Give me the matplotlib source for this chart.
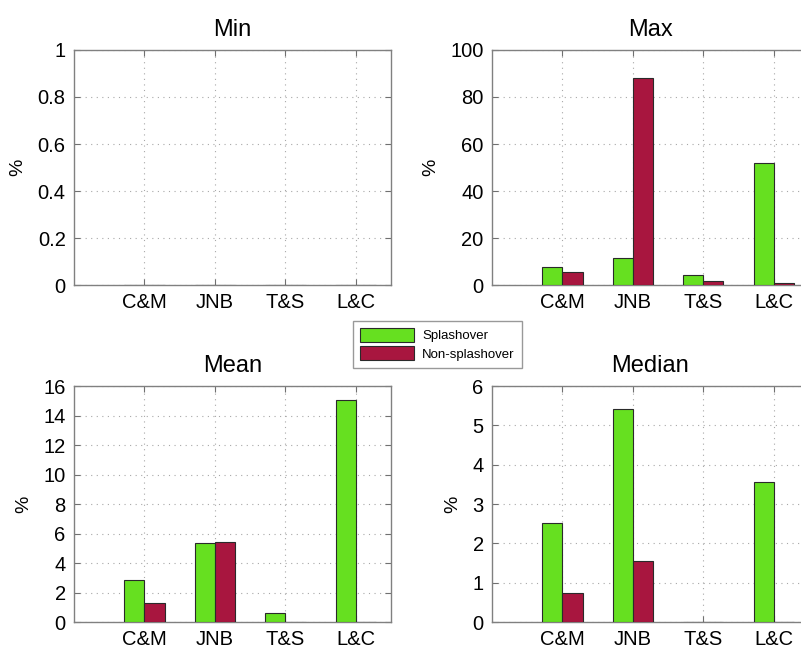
import matplotlib.pyplot as plt
import numpy as np

plt.rcParams['font.family'] = ['Liberation Sans', 'DejaVu Sans']

sites = ['C&M', 'JNB', 'T&S', 'L&C']
series_names = ['Splashover', 'Non-splashover']

min_splash = [0, 0, 0, 0]
min_non = [0, 0, 0, 0]

max_splash = [7.8, 11.6, 4.1, 51.8]
max_non = [5.7, 88.2, 1.8, 1.0]

mean_splash = [2.87, 5.39, 0.61, 15.06]
mean_non = [1.29, 5.44, 0.02, 0.02]

median_splash = [2.51, 5.41, 0.0, 3.55]
median_non = [0.74, 1.54, 0.0, 0.0]

green = '#66e020'
red = '#a8163f'
edge = '#2a2a2a'

panels = [
    ('Min', min_splash, min_non, (0, 1), np.arange(0, 1.01, 0.2), [0.0924, 0.5622, 0.3958, 0.361]),
    ('Max', max_splash, max_non, (0, 100), np.arange(0, 101, 20), [0.6142, 0.5622, 0.3958, 0.361]),
    ('Mean', mean_splash, mean_non, (0, 16), np.arange(0, 17, 2), [0.0924, 0.0445, 0.3958, 0.3625]),
    ('Median', median_splash, median_non, (0, 6), np.arange(0, 7, 1), [0.6142, 0.0445, 0.3958, 0.3625]),
]

fig = plt.figure(figsize=(8.01, 6.51), dpi=100)

x = np.arange(1, len(sites) + 1)
w = 0.286

handles = None
for title, s_vals, n_vals, ylim, yticks, pos in panels:
    ax = fig.add_axes(pos)
    b1 = ax.bar(x - w / 2, s_vals, w, color=green, edgecolor=edge, linewidth=0.8, zorder=3)
    b2 = ax.bar(x + w / 2, n_vals, w, color=red, edgecolor=edge, linewidth=0.8, zorder=3)
    handles = [b1, b2]
    ax.set_xlim(0, 4.5)
    ax.set_ylim(*ylim)
    ax.set_xticks(x)
    ax.set_xticklabels(sites)
    ax.set_yticks(yticks)
    if title == 'Min':
        ax.set_yticklabels(['0', '0.2', '0.4', '0.6', '0.8', '1'])
    ax.grid(True, linestyle=(0, (1, 4)), color='#a8a8a8', linewidth=0.8, zorder=0)
    ax.tick_params(direction='in', length=4, labelsize=14.5, color='#707070', pad=6,
                   top=True, right=True)
    for sp in ax.spines.values():
        sp.set_color('#808080')
        sp.set_linewidth(1.0)
    ax.set_title(title, fontsize=17, pad=10)
    ax.set_ylabel('%', fontsize=14, labelpad=8)

leg = fig.legend(handles, series_names, loc='upper left',
                 bbox_to_anchor=(353 / 801, 1 - 321 / 651), borderaxespad=0,
                 fontsize=9.5, frameon=True, fancybox=False, edgecolor='#808080',
                 handlelength=4.1, handleheight=1.2, borderpad=0.55,
                 labelspacing=0.3, handletextpad=0.6)
leg.get_frame().set_linewidth(1.0)

fig.savefig('out.png', dpi=100)
